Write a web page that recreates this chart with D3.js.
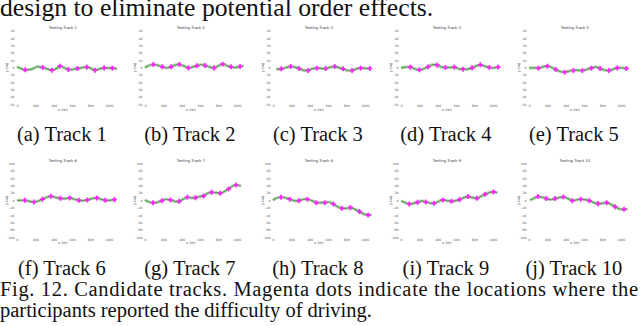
<!DOCTYPE html>
<html lang="en">
<head>
<meta charset="utf-8" />
<title>Candidate tracks</title>
<script src="https://cdn.jsdelivr.net/npm/d3@7"></script>
<style>
  html, body { margin:0; padding:0; background:#fff; overflow:hidden; }
  svg text { font-family:"Liberation Serif", "Times New Roman", serif; fill:#111; }
  .tick-lbl, .ax-lbl, .ptitle { font-family:"DejaVu Sans", sans-serif; fill:#555; }
  .tick-lbl { font-size:3.2px; }
  .ax-lbl { font-size:3.6px; }
  .ptitle { font-size:3.8px; fill:#333; }
  .caption { font-size:20.5px; }
</style>
</head>
<body>
<svg id="fig" width="640" height="326"></svg>
<script>
// --- data (x along track, y lateral offset) --------------------------------
const captions = ["(a) Track 1", "(b) Track 2", "(c) Track 3", "(d) Track 4", "(e) Track 5",
                  "(f) Track 6", "(g) Track 7", "(h) Track 8", "(i) Track 9", "(j) Track 10"];
const titles = ["Testing Track 1", "Testing Track 2", "Testing Track 3", "Testing Track 4", "Testing Track 5",
                "Testing Track 6", "Testing Track 7", "Testing Track 8", "Testing Track 9", "Testing Track 10"];

const xTicks = [0, 20, 40, 60, 80, 100];
const xTickLabels = ["0", "200", "400", "600", "800", "1000"];
const yTicks = [5, 4, 3, 2, 1, 0, -1, -2, -3, -4, -5];
const yTickLabelsTop = ["50", "40", "30", "20", "10", "0", "-10", "-20", "-30", "-40", "-50"];
const yTickLabelsBottom = ["100", "80", "60", "40", "20", "0", "-20", "-40", "-60", "-80", "-100"];

const track1Curve = [[0,0.1],[9,-0.32],[16,-0.23],[22,0.1],[28,0],[38,-0.36],[43,-0.14],[47,0.18],[53,-0.14],[56,-0.27],[62,-0.23],[66,-0.14],[76,0.05],[80,-0.09],[85,-0.36],[90,-0.18],[95,-0.05],[104,-0.09],[109,-0.18]];
const track1Marks = [[9,-0.32],[28,0],[38,-0.36],[47,0.18],[56,-0.27],[66,-0.14],[76,0.05],[85,-0.36],[95,-0.05],[104,-0.09]];

const track2Curve = [[0,-0.05],[3.6,0.23],[9.1,0.41],[13.5,0.32],[18.9,0.09],[23.6,-0.05],[28.4,0.09],[32.7,0.32],[37.5,0.41],[42.9,0.18],[47.3,-0.05],[50.9,0.05],[56.4,0.23],[61.1,0.41],[65.5,0.27],[70.9,0.05],[75.3,-0.05],[80,0.23],[84.7,0.45],[89.1,0.27],[93.8,0.09],[98.2,0],[103.6,0.14],[107.3,0.23]];
const track2Marks = [[9.1,0.41],[18.9,0.09],[28.4,0.09],[37.5,0.41],[47.3,-0.05],[56.4,0.23],[65.5,0.27],[75.3,-0.05],[84.7,0.45],[93.8,0.09],[103.6,0.14]];

const track3Curve = [[3.6,-0.23],[9.1,-0.18],[14.5,0],[19.3,0.14],[23.6,0.05],[28.4,-0.14],[32.7,-0.36],[38.2,-0.41],[42.5,-0.18],[48,-0.09],[57.5,-0.14],[62.9,0.05],[67.3,0.14],[71.6,0],[76.4,-0.18],[81.1,-0.41],[86.2,-0.41],[90.9,-0.18],[95.6,-0.09],[105.5,-0.14],[107.3,-0.14]];
const track3Marks = [[9.1,-0.18],[19.3,0.14],[28.4,-0.14],[38.2,-0.41],[48,-0.09],[57.5,-0.14],[67.3,0.14],[76.4,-0.18],[86.2,-0.41],[95.6,-0.09],[105.5,-0.14]];

const track4Curve = [[0,-0.05],[4.7,0.05],[10.2,0.05],[14.9,-0.18],[20,-0.32],[24.7,-0.18],[29.5,0.09],[33.8,0.36],[39.3,0.32],[43.6,0.09],[48.4,0],[53.1,0],[58.2,0.05],[62.9,-0.18],[67.6,-0.23],[72.7,-0.23],[77.5,-0.05],[82.2,0.23],[86.5,0.36],[91.3,0.18],[96.4,0],[101.1,-0.05],[105.8,0.05],[107.6,0.05]];
const track4Marks = [[10.2,0.05],[20,-0.32],[29.5,0.09],[39.3,0.32],[48.4,0],[58.2,0.05],[67.6,-0.23],[77.5,-0.05],[86.5,0.36],[96.4,0],[105.8,0.05]];

const track5Curve = [[0,-0.05],[5.5,-0.05],[10.2,-0.09],[15.3,0.09],[20,0.18],[24.7,0],[29.1,-0.27],[33.8,-0.55],[38.9,-0.64],[43.6,-0.5],[48.4,-0.41],[52.7,-0.36],[58.2,-0.41],[62.9,-0.27],[68,-0.09],[72.7,0.09],[77.5,-0.14],[82.5,-0.36],[87.3,-0.41],[92,-0.23],[96.4,-0.05],[101.8,-0.05],[106.2,-0.14],[107.3,-0.18]];
const track5Marks = [[10.2,-0.09],[20,0.18],[29.1,-0.27],[38.9,-0.64],[48.4,-0.41],[58.2,-0.41],[68,-0.09],[77.5,-0.14],[87.3,-0.41],[96.4,-0.05],[106.2,-0.14]];

const track6Curve = [[0,0],[3.7,0],[8.5,0],[13.7,-0.14],[18.5,-0.23],[23.3,-0.09],[27.8,0.14],[32.2,0.41],[37,0.54],[41.9,0.41],[47.4,0.27],[52.6,0.23],[57.4,0.32],[61.9,0.18],[67.4,0],[72.2,-0.05],[76.7,0.05],[81.5,0.23],[87,0.32],[91.5,0.14],[96.3,0],[101.1,0],[106.3,0.09],[107.4,0.09]];
const track6Marks = [[8.5,0],[18.5,-0.23],[27.8,0.14],[37,0.54],[47.4,0.27],[57.4,0.32],[67.4,0],[76.7,0.05],[87,0.32],[96.3,0],[106.3,0.09]];

const track7Curve = [[0,0.05],[4.6,-0.23],[8.9,-0.32],[13.5,-0.27],[18.4,-0.05],[23,0.14],[27.7,0.05],[32.6,-0.14],[37.2,-0.14],[41.5,0.14],[46.1,0.41],[50.7,0.32],[55,0.36],[59.6,0.5],[63.8,0.59],[68.4,0.95],[72.7,1.08],[77.3,1.04],[81.9,0.95],[86.9,1.22],[91.1,1.53],[95.7,1.94],[99.3,2.07],[104.6,1.94]];
const track7Marks = [[8.9,-0.32],[18.4,-0.05],[27.7,0.05],[37.2,-0.14],[46.1,0.41],[55,0.36],[63.8,0.59],[72.7,1.08],[81.9,0.95],[91.1,1.53],[99.3,2.07]];

const track8Curve = [[0,0],[3.3,0.27],[8.9,0.41],[13.8,0.32],[18.2,0.14],[23,-0.05],[28.3,-0.05],[33.1,0.14],[37.5,0.14],[42.4,-0.05],[47.2,-0.32],[51.7,-0.32],[56.5,-0.32],[61,-0.23],[65.8,-0.5],[70.3,-0.86],[75.1,-1.08],[79.6,-1.08],[84.4,-0.99],[89.6,-1.22],[94.4,-1.53],[98.9,-1.85],[103.7,-1.98],[107.4,-1.98]];
const track8Marks = [[8.9,0.41],[18.2,0.14],[28.3,-0.05],[37.5,0.14],[47.2,-0.32],[56.5,-0.32],[65.8,-0.5],[75.1,-1.08],[84.4,-0.99],[94.4,-1.53],[103.7,-1.98]];

const track9Curve = [[0,-0.05],[4.7,-0.32],[9,-0.5],[13.3,-0.41],[18,-0.27],[22.7,-0.09],[27,-0.23],[31.3,-0.36],[36,-0.41],[40.6,-0.18],[45.7,0.05],[50.4,-0.05],[55,-0.14],[59.4,-0.05],[63.7,0.09],[68.3,0.36],[73,0.5],[78.1,0.36],[82.7,0.27],[87.4,0.54],[91.7,0.81],[96.4,1.08],[100.7,1.13],[105,1.04]];
const track9Marks = [[9,-0.5],[18,-0.27],[27,-0.23],[36,-0.41],[45.7,0.05],[55,-0.14],[63.7,0.09],[73,0.5],[82.7,0.27],[91.7,0.81],[100.7,1.13]];

const track10Curve = [[1.1,0],[5.5,0.27],[9.8,0.5],[14.5,0.41],[18.9,0.23],[23.6,0.09],[28.4,0.23],[32.7,0.36],[37.5,0.45],[42.5,0.23],[47.3,-0.05],[51.6,0.05],[56.4,0.14],[61.1,0.09],[65.8,-0.05],[70.9,-0.32],[75.3,-0.45],[80,-0.41],[84.7,-0.32],[89.1,-0.54],[93.8,-0.86],[98.9,-1.17],[103.6,-1.22],[107.3,-1.17]];
const track10Marks = [[9.8,0.5],[18.9,0.23],[28.4,0.23],[37.5,0.45],[47.3,-0.05],[56.4,0.14],[65.8,-0.05],[75.3,-0.45],[84.7,-0.32],[93.8,-0.86],[103.6,-1.22]];

const curves = [track1Curve, track2Curve, track3Curve, track4Curve, track5Curve,
                track6Curve, track7Curve, track8Curve, track9Curve, track10Curve];
const marks = [track1Marks, track2Marks, track3Marks, track4Marks, track5Marks,
               track6Marks, track7Marks, track8Marks, track9Marks, track10Marks];

// --- layout ----------------------------------------------------------------
const svg = d3.select("#fig");
const rows = [
  { center: 67.5,  unit: 7.33, capY: 141, yLabels: yTickLabelsTop },
  { center: 200.3, unit: 7.4,  capY: 275, yLabels: yTickLabelsBottom }
];

// body text above the figure (the crop cuts its top, as in the source)
svg.append("text")
  .attr("x", 0).attr("y", 15.5)
  .style("font-size", "25.7px")
  .text("design to eliminate potential order effects.");

const line = d3.line().curve(d3.curveCatmullRom);

curves.forEach((curve, k) => {
  const row = rows[Math.floor(k / 5)];
  const col = k % 5;
  const x0 = 17 + 128 * col;

  const x = d3.scaleLinear().domain([0, 110]).range([x0, x0 + 100.9]);
  const y = d3.scaleLinear().domain([-5, 5]).range([row.center + 5 * row.unit, row.center - 5 * row.unit]);
  line.x(d => x(d[0])).y(d => y(d[1]));

  const g = svg.append("g");

  // y tick labels (no axis line, like the source)
  const yAxis = d3.axisLeft(y).tickValues(yTicks).tickSize(0).tickPadding(1.5)
    .tickFormat((d, i) => row.yLabels[i]);
  g.append("g").attr("transform", `translate(${x0 - 1},0)`).call(yAxis)
    .call(a => a.select(".domain").remove())
    .selectAll("text").attr("class", "tick-lbl").attr("fill", null);

  const xAxis = d3.axisBottom(x).tickValues(xTicks).tickSize(0).tickPadding(0)
    .tickFormat((d, i) => xTickLabels[i]);
  g.append("g").attr("transform", `translate(0,${row.center + 5 * row.unit + 1})`).call(xAxis)
    .call(a => a.select(".domain").remove())
    .selectAll("text").attr("class", "tick-lbl").attr("fill", null);
  g.selectAll("g").attr("font-size", null).attr("font-family", null);

  // panel title and axis labels
  g.append("text").attr("class", "ptitle")
    .attr("x", x(50)).attr("y", row.center - 38.5)
    .attr("text-anchor", "middle").text(titles[k]);
  g.append("text").attr("class", "ax-lbl")
    .attr("x", x(50)).attr("y", row.center + 43.5)
    .attr("text-anchor", "middle").text("x (m)");
  g.append("text").attr("class", "ax-lbl")
    .attr("transform", `translate(${x0 - 9},${row.center}) rotate(-90)`)
    .attr("text-anchor", "middle").text("y (m)");

  // road (light band) and centre line
  g.append("path").datum(curve).attr("d", line)
    .attr("fill", "none").attr("stroke", "#b3dbae").attr("stroke-width", 3.2);
  g.append("path").datum(curve).attr("d", line)
    .attr("fill", "none").attr("stroke", "#5b9d57").attr("stroke-width", 1.2);

  // reported-difficulty markers
  g.selectAll(".mk").data(marks[k]).join("path")
    .attr("transform", d => `translate(${x(d[0])},${y(d[1])})`)
    .attr("d", d3.symbol(d3.symbolCross, 14))
    .attr("fill", "#ff1fff");

  // sub-caption
  svg.append("text").attr("class", "caption")
    .attr("x", x(50) - 1).attr("y", row.capY)
    .attr("text-anchor", "middle").text(captions[k]);
});

// figure caption
svg.append("text").attr("class", "caption").attr("x", 0).attr("y", 296)
  .attr("textLength", 638).attr("lengthAdjust", "spacing")
  .text("Fig. 12.  Candidate tracks. Magenta dots indicate the locations where the");
svg.append("text").attr("class", "caption").attr("x", 0).attr("y", 317)
  .text("participants reported the difficulty of driving.");
</script>
</body>
</html>
